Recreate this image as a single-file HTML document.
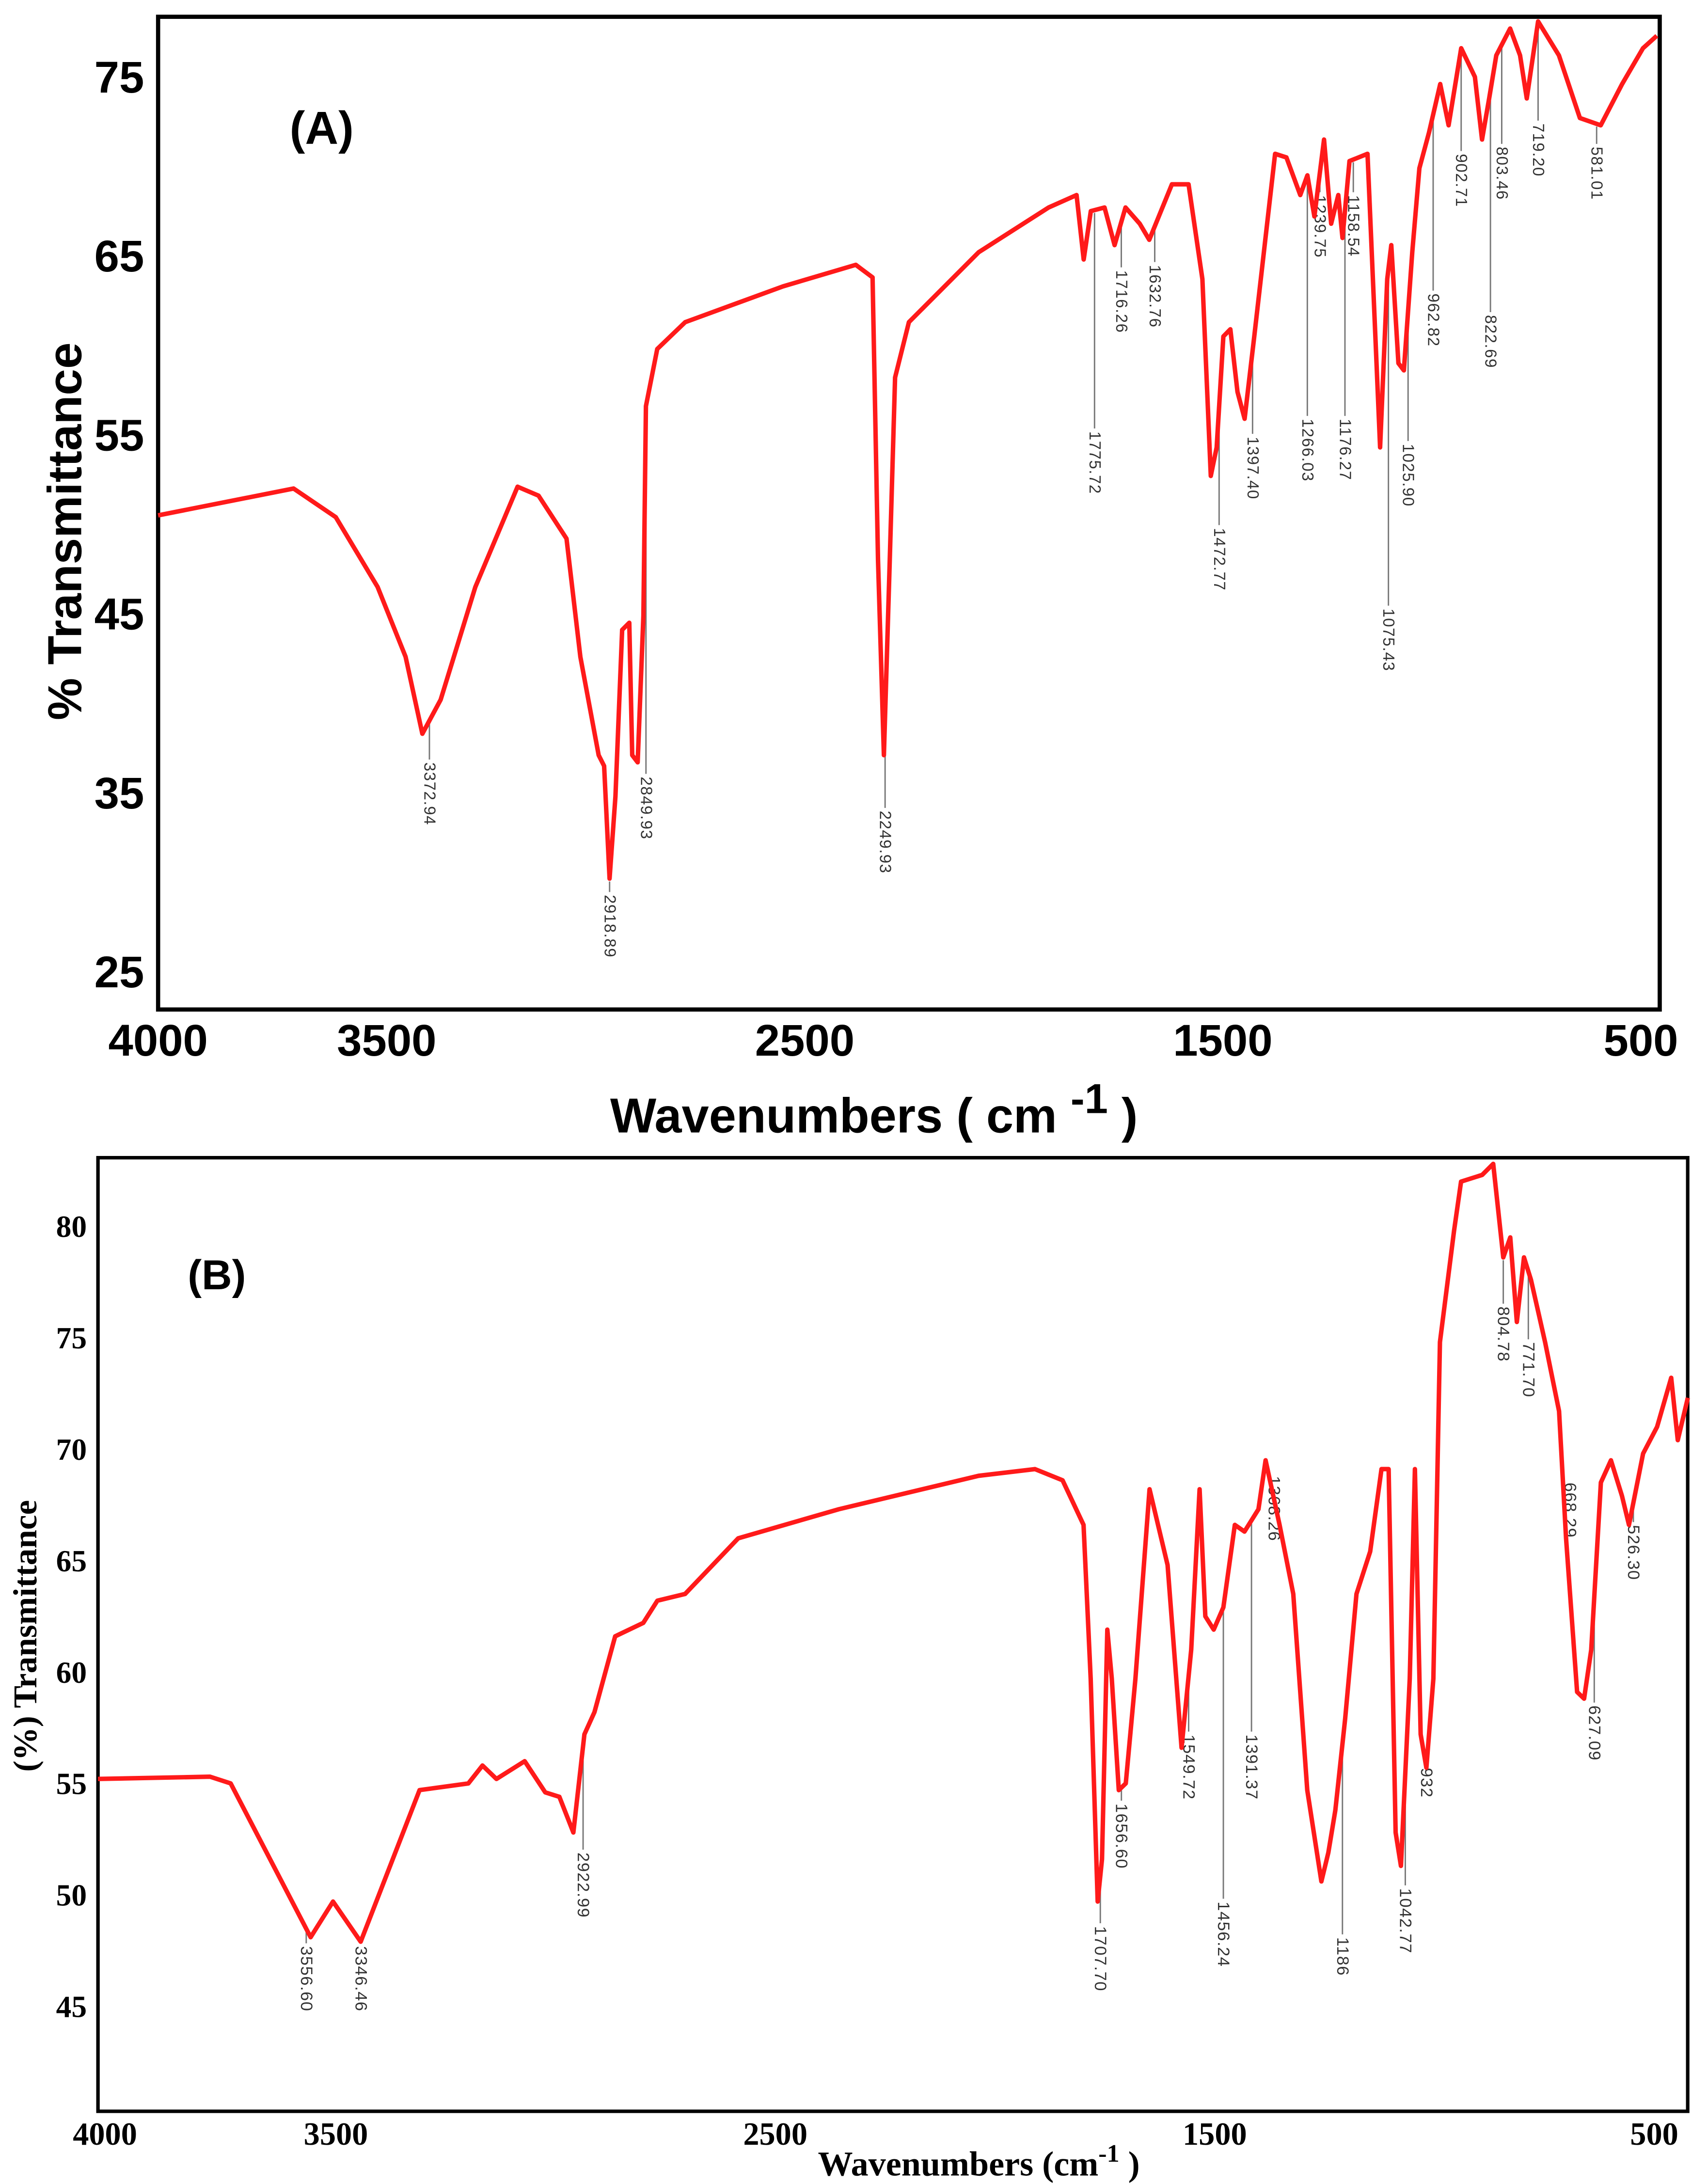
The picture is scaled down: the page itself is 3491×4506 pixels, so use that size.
<!DOCTYPE html>
<html><head><meta charset="utf-8"><style>
html,body{margin:0;padding:0;background:#fff;}
svg{display:block;}
</style></head><body>
<svg id="chart" xmlns="http://www.w3.org/2000/svg" width="3491" height="4506" viewBox="0 0 1210 1562">
<rect x="0" y="0" width="1210" height="1562" fill="#fff"/>
<g id="pa"></g>
<g id="pb"></g>
</svg>
<script>
// ---------- Panel A data ----------
const aWave = [4000,3676,3575,3475,3408,3368,3324,3241,3140,3090,3023,2990,2946,2933,2920,2906,2890,2873,2866,2853,2839,2833,2806,2739,2505,2331,2291,2278,2264,2251,2237,2204,2037,1870,1803,1786,1769,1736,1712,1686,1652,1629,1575,1535,1502,1482,1468,1452,1435,1418,1401,1378,1328,1301,1268,1251,1234,1211,1194,1177,1167,1150,1107,1087,1077,1060,1050,1033,1020,1000,983,960,933,913,883,850,833,816,799,766,742,726,699,649,599,549,498,448,415];
const aTrans = [50.5,52.0,50.4,46.5,42.6,38.3,40.2,46.5,52.1,51.6,49.2,42.6,37.1,36.5,30.2,34.8,44.1,44.5,37.1,36.7,44.9,56.6,59.8,61.3,63.3,64.5,63.8,48.0,37.1,47.2,58.2,61.3,65.2,67.7,68.4,64.8,67.5,67.7,65.6,67.7,66.8,65.9,69.0,69.0,63.7,52.7,54.3,60.5,60.9,57.4,55.9,60.5,70.7,70.5,68.4,69.5,67.2,71.5,66.8,68.4,66.0,70.3,70.7,59.8,54.3,63.7,65.6,59.0,58.6,65.2,69.9,71.9,74.6,72.3,76.6,75.0,71.5,73.8,76.2,77.7,76.2,73.8,78.1,76.2,72.7,72.3,74.6,76.6,77.3];
const aLabelText = ["3372.94","2918.89","2849.93","2249.93","1775.72","1716.26","1632.76","1472.77","1397.40","1266.03","1239.75","1176.27","1158.54","1075.43","1025.90","962.82","902.71","822.69","803.46","719.20","581.01"];
const aLabelPos = [3351,2920,2833,2261,1760,1696,1616,1462,1382,1251,1221,1161,1141,1057,1010,950,883,813,786,699,559];
const aLabelTop = [36.7,29.3,35.9,34.0,55.2,64.2,64.5,49.8,54.9,55.9,68.4,55.9,68.4,45.3,54.5,62.9,70.7,61.7,71.1,72.4,71.1];
const aYTicks = [75,65,55,45,35,25];
const aXTicks = [4000,3500,2500,1500,500];
const aXTickText = ["4000","3500","2500","1500","500"];

// ---------- Panel B data ----------
const bWave = [4016,3761,3714,3532,3481,3418,3284,3173,3141,3109,3045,2998,2966,2934,2909,2886,2839,2775,2743,2680,2559,2330,2012,1884,1821,1773,1757,1741,1731,1719,1709,1693,1677,1655,1623,1582,1550,1528,1509,1496,1477,1455,1429,1407,1375,1359,1327,1296,1264,1232,1216,1200,1178,1152,1121,1095,1079,1063,1051,1031,1019,1006,993,977,962,930,914,866,841,818,802,787,771,755,723,691,675,650,634,618,596,573,548,532,500,468,436,421,398];
const bTrans = [55.2,55.3,55.0,48.1,49.7,47.9,54.7,55.0,55.8,55.2,56.0,54.6,54.4,52.8,57.2,58.2,61.6,62.2,63.2,63.5,66.0,67.3,68.8,69.1,68.6,66.6,59.7,49.7,51.6,61.9,59.7,54.7,55.0,59.7,68.2,64.8,56.6,61.0,68.2,62.5,61.9,62.9,66.6,66.3,67.3,69.5,66.6,63.5,54.7,50.6,51.9,53.8,57.9,63.5,65.4,69.1,69.1,52.8,51.3,59.7,69.1,57.2,55.7,59.7,74.8,79.8,82.0,82.3,82.8,78.6,79.5,75.7,78.6,77.6,74.8,71.7,66.0,59.1,58.8,61.0,68.5,69.5,67.9,66.6,69.8,71.0,73.2,70.4,72.3];
const bLabelText = ["3556.60","3346.46","2922.99","1707.70","1656.60","1549.72","1456.24","1391.37","1368.26","1186","1042.77","932","804.78","771.70","668.29","627.09","526.30"];
const bLabelPos = [3542,3418,2912,1735,1687,1534,1455,1391,1340,1184,1041,993,818,761,666,611,522];
const bLabelTop = [47.7,47.7,51.9,48.6,54.1,57.2,49.7,57.2,68.8,48.1,50.3,55.7,76.4,74.8,68.5,58.5,66.6];
const bYTicks = [80,75,70,65,60,55,50,45];
const bXTicks = [4000,3500,2500,1500,500];
const bXTickText = ["4000","3500","2500","1500","500"];

const NS = "http://www.w3.org/2000/svg";
function mk(parent, tag, attrs, text){
  const e = document.createElementNS(NS, tag);
  for (const k in attrs) e.setAttribute(k, attrs[k]);
  if (text !== undefined) e.textContent = text;
  parent.appendChild(e);
  return e;
}
function interp(ws, ts, w){
  for (let i=0;i<ws.length-1;i++){
    const a=ws[i], b=ws[i+1];
    if ((w<=a && w>=b)){ const f=(a-w)/(a-b); return ts[i]+f*(ts[i+1]-ts[i]); }
  }
  return ts[ts.length-1];
}

function drawPanel(g, cfg){
  const {x0,x1,y0,y1,xS,yS,wave,trans,lTxt,lPos,lTop,yT,xT,xTT} = cfg;
  const fr = mk(g,'rect',{x:x0,y:y0,width:x1-x0,height:y1-y0,fill:'none',stroke:'#000','stroke-width':cfg.fw});
  
  
  yT.forEach(v=>{
    const t = mk(g,'text',{x:cfg.yLabX,y:yS(v)+cfg.yFs*0.35,'text-anchor':'end','font-family':cfg.font,'font-weight':'bold','font-size':cfg.yFs,fill:'#000'}, String(v));
    
    
  });
  xT.forEach((v,i)=>{
    let x = xS(v);
    if (i>0) x += cfg.xOff;
    const t = mk(g,'text',{x:x,y:cfg.xLabY,'text-anchor':'middle','font-family':cfg.font,'font-weight':'bold','font-size':cfg.xFs,fill:'#000'}, xTT[i]);
    
    
  });
  lTxt.forEach((s,i)=>{
    const x = xS(lPos[i]);
    const yp = yS(interp(wave,trans,lPos[i]));
    const yt = yS(lTop[i]);
    if (yt > yp + 4){
      const l = mk(g,'line',{x1:x,y1:yp+2,x2:x,y2:yt-2,stroke:'#777','stroke-width':1});
      
      
    }
    const t = mk(g,'text',{x:x,y:yt,transform:'rotate(90 '+x+' '+yt+')','font-family':'Liberation Sans, sans-serif','font-size':cfg.pFs,fill:'#333','dominant-baseline':'central','letter-spacing':'0.5'}, s);
    
    
  });
  const d = wave.map((w,i)=>(i?'L':'M')+xS(w).toFixed(1)+' '+yS(trans[i]).toFixed(1)).join(' ');
  const p = mk(g,'path',{d:d,fill:'none',stroke:'#ff1a1a','stroke-width':3.2,'stroke-linejoin':'round'});
  
  
}

function axisTitle(g, name, x, y, font, fs, supFs, pre, post){
  const t = mk(g,'text',{x:x,y:y,'text-anchor':'middle','font-family':font,'font-weight':'bold','font-size':fs,fill:'#000'});
  
  
  mk(t,'tspan',{}, pre);
  mk(t,'tspan',{dy:-fs*0.4,'font-size':supFs}, '-1');
  mk(t,'tspan',{dy:fs*0.4}, post);
}

const ga = document.getElementById('pa');
drawPanel(ga,{x0:113,x1:1187,y0:12,y1:722,fw:3,
  xS:w=>113+(4000-w)*0.299, yS:t=>55+(75-t)*12.8,
  wave:aWave,trans:aTrans,lTxt:aLabelText,lPos:aLabelPos,lTop:aLabelTop,
  yT:aYTicks,xT:aXTicks,xTT:aXTickText,yLabX:103,yFs:32,xFs:32,xLabY:755,xOff:14,
  font:'Liberation Sans, sans-serif',pFs:11.5});
let t;
t = mk(ga,'text',{x:230,y:103,'text-anchor':'middle','font-family':'Liberation Sans, sans-serif','font-weight':'bold','font-size':33}, '(A)');


t = mk(ga,'text',{x:58,y:380,transform:'rotate(-90 58 380)','text-anchor':'middle','font-family':'Liberation Sans, sans-serif','font-weight':'bold','font-size':34}, '% Transmittance');


axisTitle(ga,'x-axis-title-a',625,810,'Liberation Sans, sans-serif',35,30,'Wavenumbers ( cm ',' )');

const gb = document.getElementById('pb');
drawPanel(gb,{x0:70,x1:1207,y0:828,y1:1510,fw:2.5,
  xS:w=>75+(4000-w)*0.3143, yS:t=>877+(80-t)*15.94,
  wave:bWave,trans:bTrans,lTxt:bLabelText,lPos:bLabelPos,lTop:bLabelTop,
  yT:bYTicks,xT:bXTicks,xTT:bXTickText,yLabX:62,yFs:22,xFs:23,xLabY:1534,xOff:8,
  font:'Liberation Serif, serif',pFs:12});
t = mk(gb,'text',{x:155,y:922,'text-anchor':'middle','font-family':'Liberation Sans, sans-serif','font-weight':'bold','font-size':30}, '(B)');


t = mk(gb,'text',{x:26,y:1170,transform:'rotate(-90 26 1170)','text-anchor':'middle','font-family':'Liberation Serif, serif','font-weight':'bold','font-size':24}, '(%) Transmittance');


axisTitle(gb,'x-axis-title-b',700,1556,'Liberation Serif, serif',25,18,'Wavenumbers (cm',' )');
</script>
</body></html>
